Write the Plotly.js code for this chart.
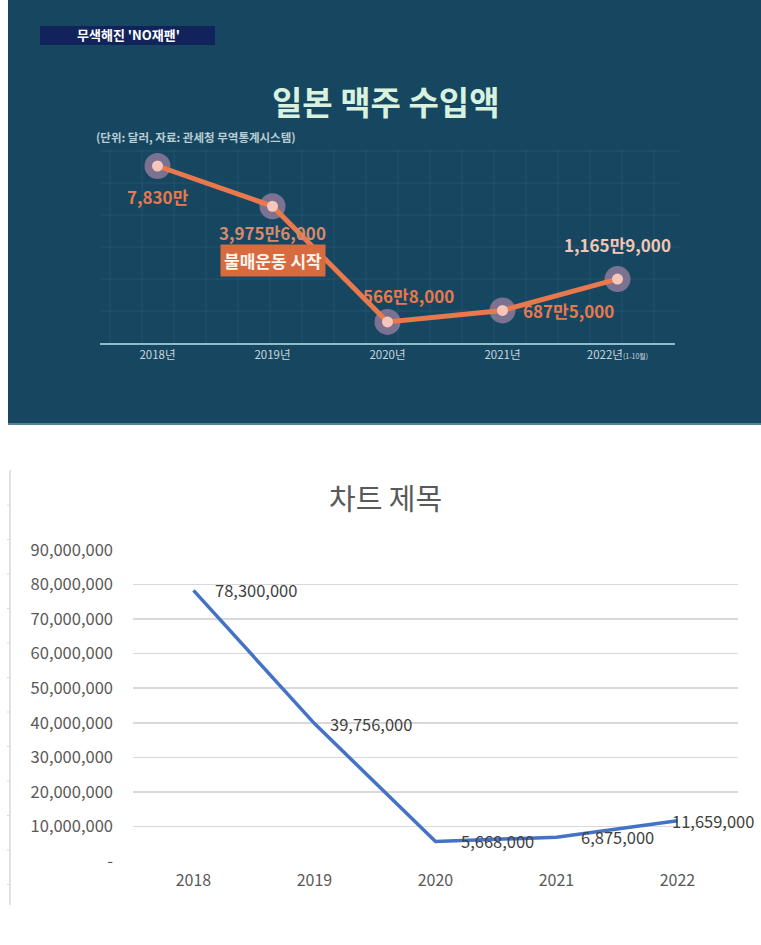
<!DOCTYPE html>
<html>
<head>
<meta charset="utf-8">
<script src="https://cdn.plot.ly/plotly-3.0.1.min.js"></script>
<style>
  html, body { margin: 0; padding: 0; background: #ffffff; }
  #myPlot { width: 761px; height: 945px; }
</style>
</head>
<body>
<div id="myPlot"></div>
<script>
// data
const years = ['2018', '2019', '2020', '2021', '2022'];
const importValues = [78300000, 39756000, 5668000, 6875000, 11659000];
const tvTickText = ['2018년', '2019년', '2020년', '2021년', "2022년<span style='font-size:7px'>(1-10월)</span>"];
const tvLabels = ['7,830만', '3,975만6,000', '566만8,000', '687만5,000', '1,165만9,000'];
const excelTickVals = [0, 10000000, 20000000, 30000000, 40000000, 50000000, 60000000, 70000000, 80000000, 90000000];

const W = 761, H = 945;
const px = x => x / W;
const py = y => 1 - y / H;

const KR = '"Noto Sans CJK KR", "Noto Sans", sans-serif';
const orange = '#e9784c';

// top (tv screenshot) chart
const haloTrace = {
    x: years, y: importValues, xaxis: 'x', yaxis: 'y',
    type: 'scatter', mode: 'markers',
    marker: {size: 26, color: 'rgba(205,150,185,0.55)', line: {width: 0}},
    hoverinfo: 'skip', showlegend: false
};
const tvLine = {
    x: years, y: importValues, xaxis: 'x', yaxis: 'y',
    type: 'scatter', mode: 'lines+markers',
    line: {color: orange, width: 5},
    marker: {size: 11, color: '#f7c6bb'},
    showlegend: false
};

// bottom (excel) chart
const excelLine = {
    x: years, y: importValues, xaxis: 'x2', yaxis: 'y2',
    type: 'scatter', mode: 'lines',
    line: {color: '#4472c4', width: 3.5},
    showlegend: false
};

const gridColor = 'rgba(140,190,205,0.11)';
const shapes = [
    {type: 'rect', xref: 'paper', yref: 'paper', x0: px(8), x1: 1, y0: py(425), y1: 1,
     fillcolor: '#174661', line: {width: 0}, layer: 'below'},
    {type: 'line', xref: 'paper', yref: 'paper', x0: px(8), x1: 1, y0: py(424), y1: py(424),
     line: {color: '#6f98a6', width: 1.5}, layer: 'below'},
    {type: 'rect', xref: 'paper', yref: 'paper', x0: px(40), x1: px(215), y0: py(45), y1: py(26),
     fillcolor: '#12235c', line: {width: 0}, layer: 'below'},
    {type: 'line', xref: 'paper', yref: 'paper', x0: px(10), x1: px(10), y0: py(905), y1: py(470),
     line: {color: '#d9d9d9', width: 1.5}}
];
for (let gx = 110; gx <= 680; gx += 32) {
    shapes.push({type: 'line', xref: 'paper', yref: 'paper', x0: px(gx), x1: px(gx), y0: py(343), y1: py(150),
        line: {color: gridColor, width: 1}, layer: 'below'});
}
for (let gy = 151; gy < 343; gy += 32) {
    shapes.push({type: 'line', xref: 'paper', yref: 'paper', x0: px(100), x1: px(680), y0: py(gy), y1: py(gy),
        line: {color: gridColor, width: 1}, layer: 'below'});
}
for (let ty = 505; ty <= 905; ty += 34.5) {
    shapes.push({type: 'line', xref: 'paper', yref: 'paper', x0: px(7), x1: px(10), y0: py(ty), y1: py(ty),
        line: {color: '#d9d9d9', width: 1}});
}

const labelColors = [orange, '#d48a6c', orange, orange, '#f1c7b6'];
const labelShift = [[0, -30], [0, -26], [21, 26], [66, 0], [0, 35]];
const excelShift = [19, 13, 23, 22, -8];
const mid = {xanchor: 'center', yanchor: 'middle', showarrow: false};
const annotations = [
    Object.assign({xref: 'paper', yref: 'paper', x: px(128), y: py(35), text: "<b>무색해진 'NO재팬'</b>",
     font: {family: KR, size: 13, color: '#ffffff'}}, mid),
    Object.assign({xref: 'paper', yref: 'paper', x: px(386), y: py(101), text: '<b>일본 맥주 수입액</b>',
     font: {family: KR, size: 33, color: '#d8f2df'}}, mid),
    Object.assign({xref: 'paper', yref: 'paper', x: px(196), y: py(137),
     text: '<b>(단위: 달러, 자료: 관세청 무역통계시스템)</b>',
     font: {family: KR, size: 11.5, color: '#b8cdd3'}}, mid),
    // box hung under the 2019 point
    Object.assign({xref: 'x', yref: 'y', x: 1, y: Math.log10(importValues[1]), yshift: -54,
     text: '<b>불매운동 시작</b>', bgcolor: '#d86a40', borderpad: 3,
     font: {family: KR, size: 17, color: '#fff4ee'}}, mid),
    Object.assign({xref: 'paper', yref: 'paper', x: px(385), y: py(497), text: '차트 제목',
     font: {family: KR, size: 29, color: '#595959'}}, mid)
];
years.forEach((yr, i) => {
    annotations.push(Object.assign({
        xref: 'x', yref: 'y', x: i, y: Math.log10(importValues[i]),
        text: '<b>' + tvLabels[i] + '</b>',
        xshift: labelShift[i][0], yshift: labelShift[i][1],
        font: {family: KR, size: 17, color: labelColors[i]}
    }, mid));
    // excel data labels
    annotations.push({
        xref: 'x2', yref: 'y2', x: i, y: importValues[i],
        text: importValues[i].toLocaleString('en-US'),
        xanchor: 'left', yanchor: 'middle', showarrow: false, xshift: excelShift[i],
        font: {family: KR, size: 16.5, color: '#404040'}
    });
});

const layout = {
    width: W, height: H,
    margin: {l: 0, r: 0, t: 0, b: 0},
    paper_bgcolor: '#ffffff',
    plot_bgcolor: 'rgba(0,0,0,0)',
    showlegend: false,
    xaxis: {
        domain: [px(100), px(675)], anchor: 'y',
        type: 'category', range: [-0.5, 4.5],
        tickvals: years, ticktext: tvTickText,
        showgrid: false, zeroline: false,
        showline: true, linecolor: '#8dbccb', linewidth: 2,
        ticks: '', tickfont: {family: KR, size: 11.5, color: '#c9d7dc'}
    },
    yaxis: {
        domain: [py(343), py(140)], anchor: 'x',
        type: 'log', range: [6.599, 8.084],
        showgrid: false, zeroline: false, showline: false, showticklabels: false
    },
    xaxis2: {
        domain: [px(133), px(738)], anchor: 'y2',
        type: 'category', range: [-0.5, 4.5],
        showgrid: false, zeroline: false, showline: false, ticks: '',
        ticklabelstandoff: 8,
        tickfont: {family: KR, size: 16, color: '#595959'}
    },
    yaxis2: {
        domain: [py(861), py(550)], anchor: 'x2',
        range: [0, 90000000],
        tickvals: excelTickVals,
        ticktext: excelTickVals.map(v => v === 0 ? '-' : v.toLocaleString('en-US')),
        showgrid: true, gridcolor: '#d9d9d9', gridwidth: 1.5,
        zeroline: false, showline: false, ticks: '', ticklabelstandoff: 19,
        tickfont: {family: KR, size: 16.5, color: '#595959'}
    },
    shapes: shapes,
    annotations: annotations
};

Plotly.newPlot('myPlot', [haloTrace, tvLine, excelLine], layout, {staticPlot: true});
</script>
</body>
</html>
